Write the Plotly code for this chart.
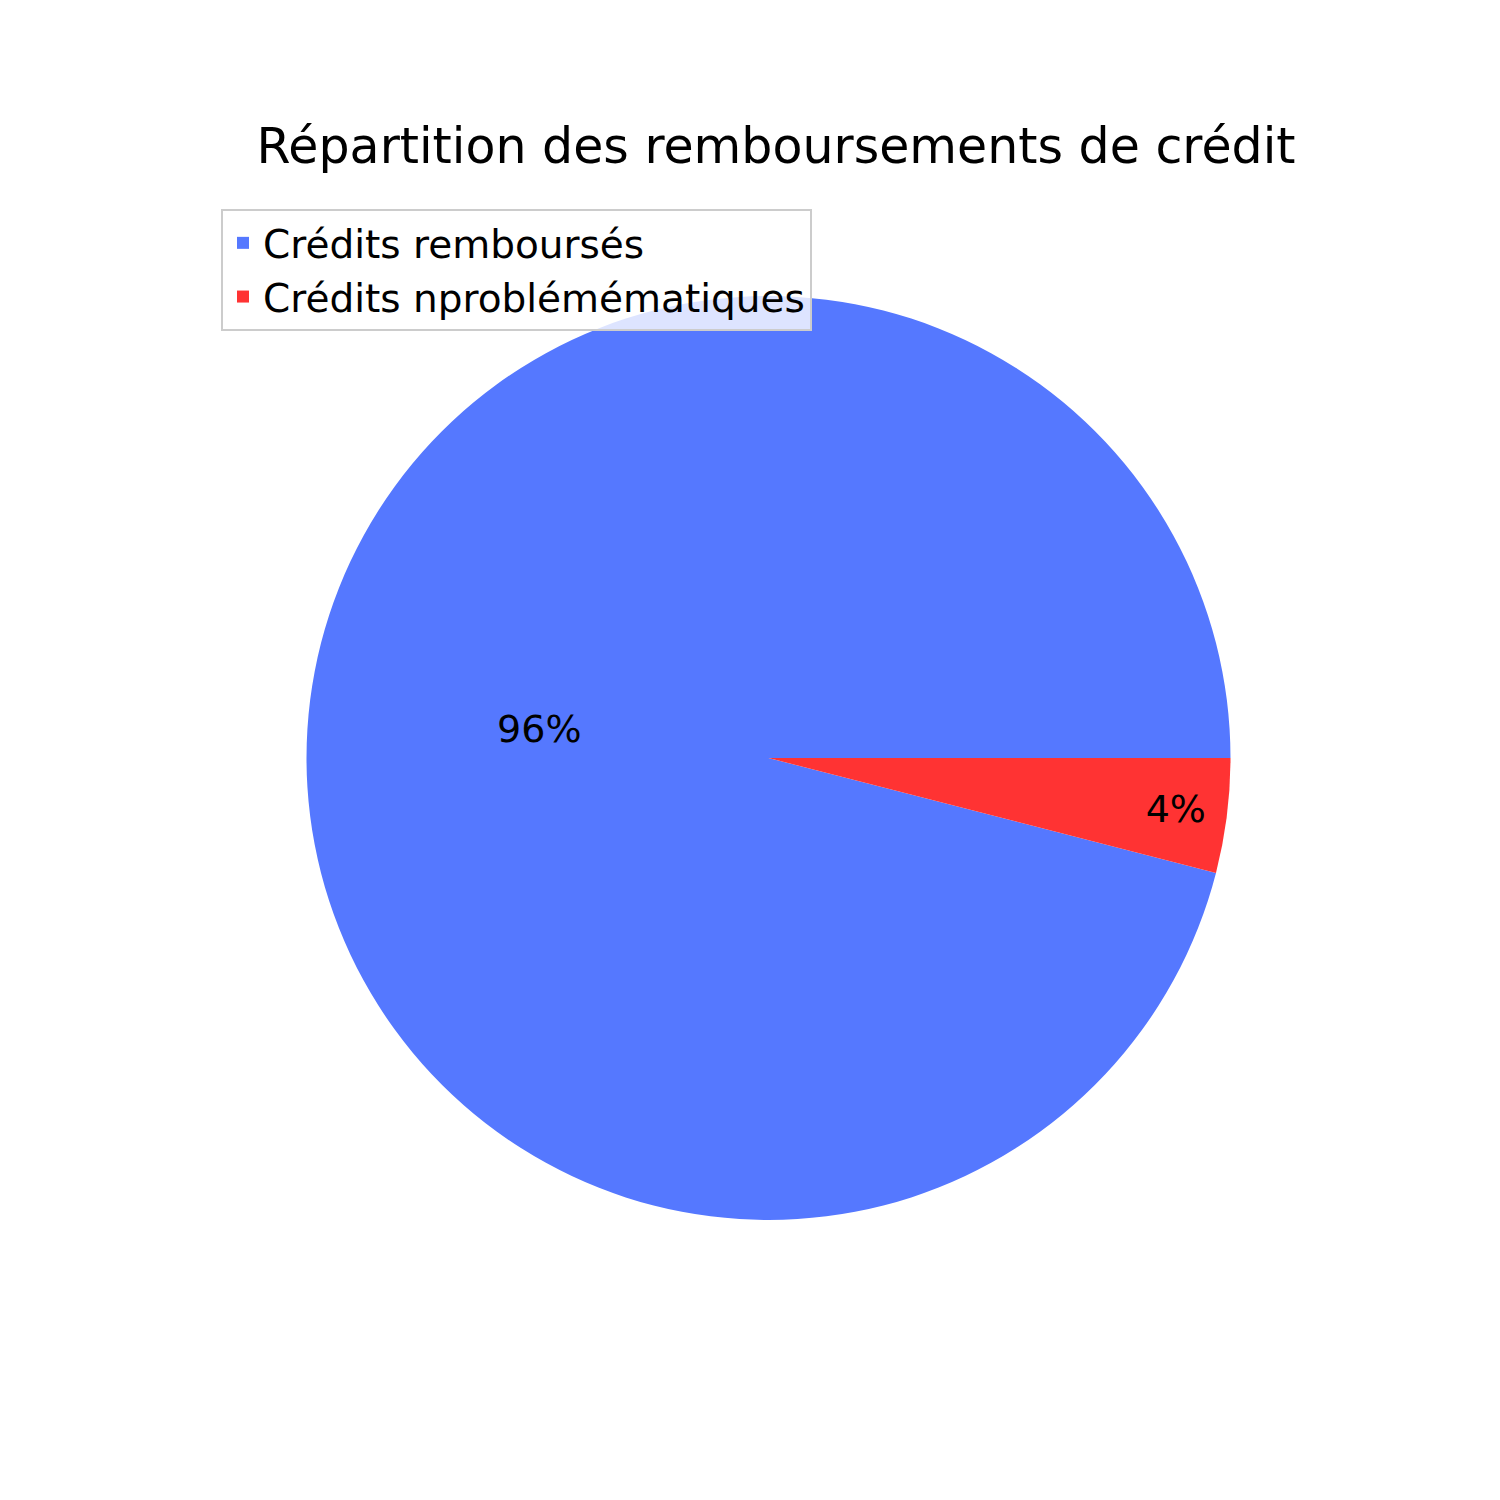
import plotly.graph_objects as go

labels = ["Crédits remboursés", "Crédits nproblémématiques"]
values = [96, 4]
colors = ["#5578FF", "#FF3333"]

fig = go.Figure(go.Pie(
    labels=labels, values=values, sort=False,
    direction="counterclockwise", rotation=104.4,
    marker=dict(colors=colors),
    textinfo="percent", texttemplate="%{percent:.0%}",
    textposition="inside", insidetextorientation="horizontal",
    textfont=dict(color="black", size=38),
    domain=dict(x=[0.199, 0.815], y=[0.192, 0.808]),
))

fig.update_layout(
    width=1500, height=1500,
    margin=dict(l=0, r=0, t=0, b=0),
    paper_bgcolor="white",
    font=dict(family="DejaVu Sans", color="black"),
    title=dict(text="Répartition des remboursements de crédit", x=0.512, xanchor="center",
               y=0.908, yanchor="middle", font=dict(size=49)),
    legend=dict(x=0.142, y=0.866, xanchor="left", yanchor="top",
                bordercolor="#cccccc", borderwidth=2, font=dict(size=39),
                bgcolor="rgba(255,255,255,0.8)"),
)

fig.write_html("out.html")
